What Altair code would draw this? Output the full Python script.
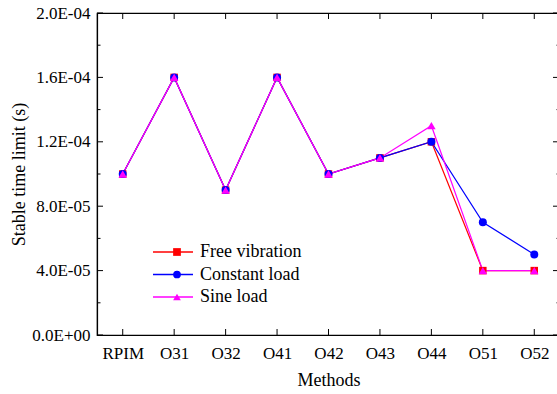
import altair as alt
import pandas as pd

methods = ["RPIM", "O31", "O32", "O41", "O42", "O43", "O44", "O51", "O52"]
free_vibration = [1.0e-4, 1.6e-4, 0.9e-4, 1.6e-4, 1.0e-4, 1.1e-4, 1.2e-4, 4.0e-5, 4.0e-5]
constant_load = [1.0e-4, 1.6e-4, 0.9e-4, 1.6e-4, 1.0e-4, 1.1e-4, 1.2e-4, 7.0e-5, 5.0e-5]
sine_load = [1.0e-4, 1.6e-4, 0.9e-4, 1.6e-4, 1.0e-4, 1.1e-4, 1.3e-4, 4.0e-5, 4.0e-5]
series_names = ["Free vibration", "Constant load", "Sine load"]
series_colors = ["#FF0000", "#0000FF", "#FF00FF"]
series_shapes = ["square", "circle", "triangle-up"]
series_sizes = [56, 72, 90]
y_major_ticks = [0, 4e-5, 8e-5, 1.2e-4, 1.6e-4, 2e-4]
y_minor_ticks = [2e-5, 6e-5, 1.0e-4, 1.4e-4, 1.8e-4]

rows = []
for name, vals in zip(series_names, [free_vibration, constant_load, sine_load]):
    for m, v in zip(methods, vals):
        rows.append({"method": m, "value": v, "series": name})
df = pd.DataFrame(rows)
df_major = pd.DataFrame({"value": y_major_ticks})
df_minor = pd.DataFrame({"value": y_minor_ticks})
df_x = pd.DataFrame({"method": methods})

W, H = 463, 322
FONT = "Liberation Serif"

x_scale = alt.Scale(type="point", padding=0.5, domain=methods)
y_scale = alt.Scale(domain=[0, 2e-4], nice=False, zero=True)
x_axis = alt.Axis(title="Methods", labelAngle=0, ticks=False, tickSize=0,
                  labelPadding=10, titlePadding=10, labelFontSize=17,
                  titleFontSize=18, titleFontWeight="normal",
                  domainColor="black", domainWidth=1.2, grid=False,
                  labelColor="black", titleColor="black")
y_axis = alt.Axis(title="Stable time limit (s)", values=y_major_ticks,
                  ticks=False, tickSize=0, labelPadding=7, titlePadding=3,
                  labelFontSize=17, titleFontSize=18, titleFontWeight="normal",
                  domainColor="black", domainWidth=1.2, grid=False,
                  labelColor="black", titleColor="black",
                  labelExpr="replace(replace(format(datum.value, '.1e'), 'e-', 'E-0'), 'e+', 'E+0')")

X = alt.X("method:N", scale=x_scale, axis=x_axis, sort=methods, title="Methods")
Y = alt.Y("value:Q", scale=y_scale, axis=y_axis, title="Stable time limit (s)")

legend_lines = alt.Legend(title=None, orient="none", legendX=55, legendY=230,
                          symbolType="stroke", symbolSize=1600, symbolStrokeWidth=1.3,
                          clipHeight=18, rowPadding=4.5, labelFont=FONT,
                          labelFontSize=18, labelOffset=6, labelColor="black",
                          padding=0)
legend_marks = alt.Legend(title=None, orient="none", legendX=71, legendY=230,
                          symbolSize=60, symbolStrokeWidth=0, clipHeight=18,
                          rowPadding=4.5, labelFont=FONT, labelFontSize=18,
                          labelExpr="' '", labelOpacity=0, padding=0)

lines = alt.Chart(df).mark_line(strokeWidth=1.2).encode(
    x=X, y=Y,
    color=alt.Color("series:N", sort=series_names,
                    scale=alt.Scale(domain=series_names, range=series_colors),
                    legend=legend_lines),
)
points = alt.Chart(df).mark_point(filled=True, opacity=1).encode(
    x=X, y=Y,
    color=alt.Color("series:N", sort=series_names,
                    scale=alt.Scale(domain=series_names, range=series_colors),
                    legend=legend_marks),
    shape=alt.Shape("series:N", sort=series_names,
                    scale=alt.Scale(domain=series_names, range=series_shapes),
                    legend=legend_marks),
    size=alt.Size("series:N", scale=alt.Scale(domain=series_names, range=series_sizes),
                  legend=None),
)

tick_color = "black"
left_major = alt.Chart(df_major).mark_rule(color=tick_color, strokeWidth=1).encode(
    y=Y, x=alt.value(0), x2=alt.value(6))
right_major = alt.Chart(df_major).mark_rule(color=tick_color, strokeWidth=1).encode(
    y=Y, x=alt.value(W), x2=alt.value(W - 7))
left_minor = alt.Chart(df_minor).mark_rule(color=tick_color, strokeWidth=1).encode(
    y=Y, x=alt.value(0), x2=alt.value(3.5))
right_minor = alt.Chart(df_minor).mark_rule(color=tick_color, strokeWidth=1).encode(
    y=Y, x=alt.value(W), x2=alt.value(W - 3.5))
bottom_ticks = alt.Chart(df_x).mark_rule(color=tick_color, strokeWidth=1).encode(
    x=X, y=alt.value(H), y2=alt.value(H - 6))
top_ticks = alt.Chart(df_x).mark_rule(color=tick_color, strokeWidth=1).encode(
    x=X, y=alt.value(0), y2=alt.value(6))

chart = alt.layer(
    lines, points, left_major, right_major, left_minor, right_minor,
    bottom_ticks, top_ticks
).resolve_scale(color="independent", shape="independent").properties(
    width=W, height=H,
    autosize=alt.AutoSizeParams(type="none"),
    padding={"left": 97, "top": 13, "right": -3, "bottom": 59},
).configure(font=FONT).configure_view(stroke="black", strokeWidth=1.2)

chart.save("out.html", embed_options={"renderer": "svg", "actions": False})
